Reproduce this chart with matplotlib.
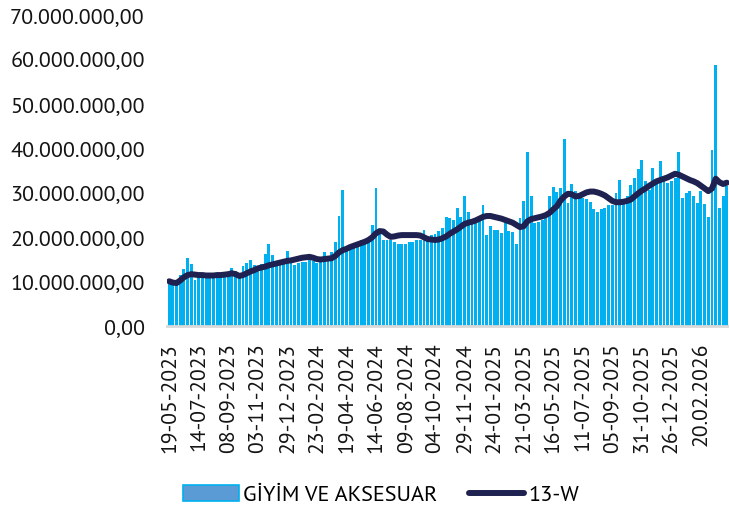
import matplotlib
matplotlib.use("Agg")
import matplotlib.pyplot as plt
from matplotlib.patches import Patch
from matplotlib.lines import Line2D
from matplotlib.ticker import FuncFormatter

# weekly sales, millions
sales = [10.0, 9.8, 9.7, 11.5, 12.8, 15.3, 14.0, 10.4, 11.1, 11.0,
         11.0, 11.1, 11.0, 11.2, 11.1, 11.3, 11.2, 13.2, 12.5, 10.8,
         13.5, 14.3, 14.9, 13.8, 13.4, 14.0, 16.3, 18.4, 16.0, 14.1,
         14.3, 14.8, 17.0, 14.2, 13.8, 14.3, 14.4, 14.5, 15.6, 14.6,
         14.3, 14.5, 16.8, 15.6, 16.8, 18.9, 24.8, 30.7, 17.1, 17.5,
         17.9, 18.3, 19.3, 19.2, 19.6, 22.7, 31.1, 20.9, 19.5, 19.4,
         19.4, 19.0, 18.5, 18.4, 18.6, 19.0, 19.0, 19.5, 19.4, 21.6,
         20.4, 20.6, 20.8, 21.4, 22.0, 24.6, 24.3, 23.9, 26.5, 24.5,
         29.2, 25.7, 23.2, 23.2, 23.9, 27.3, 20.5, 22.5, 21.6, 21.6,
         20.9, 23.2, 21.4, 21.1, 18.6, 24.4, 28.1, 39.3, 29.4, 23.2,
         23.5, 23.9, 24.3, 29.2, 31.3, 30.2, 31.1, 42.1, 27.7, 31.9,
         30.5, 28.8, 28.8, 28.6, 28.0, 26.3, 25.8, 26.3, 26.5, 27.3,
         27.3, 29.9, 32.9, 27.6, 29.2, 31.8, 33.3, 35.4, 37.3, 32.6,
         30.7, 35.5, 32.2, 37.2, 32.6, 32.3, 32.6, 33.3, 39.3, 28.8,
         29.9, 30.5, 29.3, 27.8, 30.5, 27.5, 24.6, 39.7, 58.9, 26.5,
         29.2, 31.5]

# 13 week line, millions
avg13 = [10.1, 9.8, 9.7, 10.3, 11.0, 11.5, 11.7, 11.6, 11.5, 11.5,
         11.4, 11.4, 11.4, 11.5, 11.5, 11.6, 11.7, 11.9, 11.7, 11.3,
         11.5, 11.9, 12.3, 12.6, 13.0, 13.2, 13.4, 13.7, 13.9, 14.1,
         14.3, 14.5, 14.7, 14.8, 15.0, 15.2, 15.4, 15.5, 15.6, 15.4,
         15.1, 15.0, 15.1, 15.2, 15.3, 15.8, 16.6, 17.1, 17.4, 17.8,
         18.1, 18.4, 18.7, 19.0, 19.4, 20.0, 20.9, 21.4, 21.3, 20.6,
         20.1, 20.2, 20.4, 20.5, 20.5, 20.5, 20.5, 20.5, 20.4, 20.0,
         19.6, 19.5, 19.4, 19.5, 19.8, 20.2, 20.8, 21.3, 21.8, 22.4,
         23.0, 23.3, 23.5, 23.8, 24.2, 24.6, 24.8, 24.8, 24.6, 24.4,
         24.2, 23.9, 23.6, 23.3, 22.8, 22.3, 22.5, 23.6, 24.1, 24.3,
         24.5, 24.7, 25.0, 25.5, 26.3, 27.0, 28.3, 29.2, 29.8, 29.7,
         29.2, 29.3, 29.7, 30.1, 30.3, 30.3, 30.1, 29.8, 29.4, 28.8,
         28.2, 27.9, 27.9, 28.0, 28.2, 28.5, 29.2, 29.9, 30.5, 31.0,
         31.6, 32.1, 32.6, 32.9, 33.2, 33.5, 33.9, 34.3, 34.1, 33.7,
         33.3, 32.9, 32.6, 32.2, 31.6, 31.0, 30.4, 31.0, 33.2, 32.4,
         32.0, 32.3]

tick_labels = ["19-05-2023", "14-07-2023", "08-09-2023", "03-11-2023",
               "29-12-2023", "23-02-2024", "19-04-2024", "14-06-2024",
               "09-08-2024", "04-10-2024", "29-11-2024", "24-01-2025",
               "21-03-2025", "16-05-2025", "11-07-2025", "05-09-2025",
               "31-10-2025", "26-12-2025", "20.02.2026"]
tick_step = 8

plt.rcParams['font.family'] = ['PT Sans', 'Open Sans', 'DejaVu Sans']

fig = plt.figure(figsize=(7.29, 5.08), dpi=100)
ax = fig.add_axes([0.229, 0.358, 0.771, 0.612])

x = list(range(len(sales)))
ax.bar(x, [v * 1e6 for v in sales], width=0.78, color='#00b0f0', linewidth=0)
ax.plot(x, [v * 1e6 for v in avg13], color='#1f2150', linewidth=4.3,
        solid_capstyle='round', solid_joinstyle='round')

ax.set_xlim(-0.6, len(sales) - 0.4)
ax.set_ylim(0, 70e6)
ax.set_yticks([i * 10e6 for i in range(8)])

def tr_fmt(v, pos):
    s = "{:,.2f}".format(v)
    return s.replace(",", "X").replace(".", ",").replace("X", ".")

ax.yaxis.set_major_formatter(FuncFormatter(tr_fmt))
ax.set_xticks(range(0, tick_step * len(tick_labels), tick_step))
ax.set_xticklabels(tick_labels, rotation=90)
ax.tick_params(axis='both', length=0, colors='#141414')
ax.tick_params(axis='x', pad=12, labelsize=15.6)
ax.tick_params(axis='y', pad=16, labelsize=15.8)

for s in ['top', 'right', 'left']:
    ax.spines[s].set_visible(False)
ax.spines['bottom'].set_color('#d9d9d9')
ax.spines['bottom'].set_linewidth(2)

handles = [Patch(facecolor='#5b9bd5', edgecolor='#00b0f0', linewidth=1.2),
           Line2D([0], [0], color='#1f2150', linewidth=4.3, solid_capstyle='round')]
fig.legend(handles, ["GİYİM VE AKSESUAR", "13-W"], loc='center',
           bbox_to_anchor=(0.523, 0.026), ncol=2, frameon=False, fontsize=16,
           handlelength=2.5, handletextpad=0.2, columnspacing=1.4)

fig.savefig('out.png', dpi=100)
